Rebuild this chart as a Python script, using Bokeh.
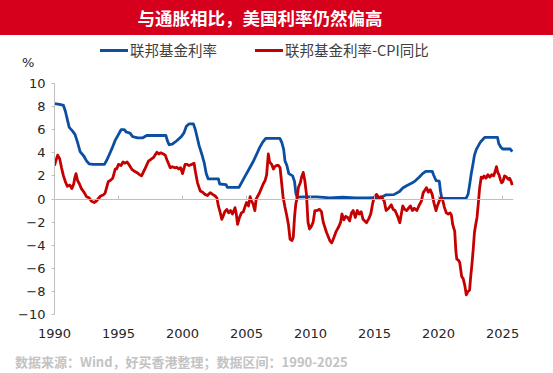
from bokeh.plotting import figure
from bokeh.layouts import column
from bokeh.models import LinearAxis, Div, FixedTicker, ColumnDataSource
from bokeh.embed import file_html
from bokeh.resources import INLINE

title_text = "与通胀相比，美国利率仍然偏高"
series_names = ["联邦基金利率", "联邦基金利率-CPI同比"]
footer_text = "数据来源：Wind，好买香港整理；数据区间：1990-2025"
unit_text = "%"
x_ticks = [1990, 1995, 2000, 2005, 2010, 2015, 2020, 2025]
y_ticks = [-10, -8, -6, -4, -2, 0, 2, 4, 6, 8, 10]

fed_years = [1990.0, 1990.4, 1990.7, 1990.85, 1991.0, 1991.15, 1991.4, 1991.6, 1991.8, 1992.0,
             1992.3, 1992.5, 1992.7, 1993.0, 1993.5, 1993.9, 1994.1, 1994.3, 1994.5, 1994.75,
             1995.0, 1995.2, 1995.45, 1995.6, 1995.9, 1996.1, 1996.5, 1996.9, 1997.2, 1997.6,
             1998.0, 1998.5, 1998.7, 1998.8, 1998.95, 1999.2, 1999.5, 1999.7, 1999.9, 2000.1,
             2000.3, 2000.5, 2000.85, 2001.0, 2001.15, 2001.3, 2001.5, 2001.7, 2001.85, 2002.0,
             2002.8, 2002.9, 2003.4, 2003.5, 2004.4, 2004.6, 2004.9, 2005.2, 2005.5, 2005.8,
             2006.0, 2006.25, 2006.5, 2007.6, 2007.75, 2007.9, 2008.0, 2008.15, 2008.3, 2008.6,
             2008.75, 2008.85, 2008.95, 2009.5, 2010.5, 2011.5, 2012.5, 2013.5, 2014.5, 2015.5,
             2015.9, 2016.5, 2016.95, 2017.2, 2017.5, 2017.95, 2018.2, 2018.5, 2018.75, 2019.0,
             2019.5, 2019.6, 2019.8, 2020.05, 2020.15, 2020.25, 2022.15, 2022.3, 2022.42, 2022.55,
             2022.65, 2022.8, 2022.95, 2023.1, 2023.25, 2023.45, 2023.6, 2024.6, 2024.7, 2024.85,
             2025.0, 2025.6, 2025.75]
fed_vals = [8.25, 8.2, 8.1, 7.6, 6.9, 6.2, 5.9, 5.6, 4.9, 4.1,
            3.7, 3.3, 3.05, 3.0, 3.0, 3.0, 3.4, 3.9, 4.4, 5.1,
            5.6, 6.0, 6.0, 5.8, 5.7, 5.4, 5.3, 5.3, 5.5, 5.5,
            5.5, 5.5, 5.5, 5.1, 4.7, 4.75, 5.0, 5.2, 5.4, 5.7,
            6.3, 6.5, 6.5, 6.0, 5.3, 4.6, 3.9, 3.1, 2.2, 1.75,
            1.75, 1.3, 1.25, 1.0, 1.0, 1.4, 2.0, 2.6, 3.2, 3.9,
            4.4, 4.9, 5.25, 5.25, 4.9, 4.3, 3.3, 2.9, 2.2, 2.0,
            1.5, 0.5, 0.16, 0.18, 0.18, 0.09, 0.15, 0.1, 0.09, 0.13,
            0.36, 0.38, 0.65, 0.95, 1.15, 1.4, 1.6, 1.9, 2.2, 2.4,
            2.4, 2.1, 1.6, 1.55, 0.65, 0.06, 0.08, 0.4, 1.2, 2.2,
            2.8, 3.8, 4.3, 4.6, 4.9, 5.15, 5.33, 5.33, 4.8, 4.5,
            4.33, 4.33, 4.1]

real_years = [1990.0, 1990.1, 1990.25, 1990.4, 1990.55, 1990.7, 1990.85, 1991.0, 1991.2, 1991.35,
              1991.5, 1991.6, 1991.68, 1991.8, 1991.95, 1992.1, 1992.3, 1992.5, 1992.7, 1992.9,
              1993.1, 1993.25, 1993.4, 1993.6, 1993.8, 1993.95, 1994.2, 1994.35, 1994.55, 1994.75,
              1994.85, 1995.0, 1995.2, 1995.35, 1995.5, 1995.67, 1995.8, 1996.05, 1996.25, 1996.45,
              1996.65, 1996.8, 1997.1, 1997.35, 1997.5, 1997.74, 1997.85, 1998.0, 1998.15, 1998.3,
              1998.5, 1998.65, 1998.78, 1999.04, 1999.2, 1999.4, 1999.55, 1999.7, 1999.85, 2000.0,
              2000.2, 2000.35, 2000.5, 2000.73, 2000.9, 2001.0, 2001.17, 2001.38, 2001.55, 2001.75,
              2001.95, 2002.16, 2002.35, 2002.55, 2002.68, 2002.8, 2002.95, 2003.07, 2003.2, 2003.3,
              2003.46, 2003.6, 2003.75, 2003.9, 2004.1, 2004.2, 2004.3, 2004.45, 2004.6, 2004.75,
              2004.9, 2005.0, 2005.15, 2005.28, 2005.4, 2005.5, 2005.65, 2005.75, 2005.9, 2006.0,
              2006.15, 2006.3, 2006.45, 2006.57, 2006.7, 2006.8, 2006.96, 2007.1, 2007.2, 2007.35,
              2007.5, 2007.62, 2007.75, 2007.85, 2008.0, 2008.15, 2008.27, 2008.4, 2008.55, 2008.65,
              2008.75, 2008.85, 2008.95, 2009.05, 2009.2, 2009.3, 2009.43, 2009.55, 2009.68, 2009.8,
              2009.92, 2010.05, 2010.2, 2010.34, 2010.5, 2010.7, 2010.85, 2011.0, 2011.25, 2011.5,
              2011.65, 2011.8, 2012.0, 2012.2, 2012.35, 2012.45, 2012.6, 2012.75, 2012.9, 2013.05,
              2013.2, 2013.33, 2013.5, 2013.65, 2013.8, 2013.95, 2014.1, 2014.37, 2014.55, 2014.7,
              2014.85, 2014.95, 2015.15, 2015.35, 2015.5, 2015.75, 2015.9, 2016.1, 2016.3, 2016.45,
              2016.6, 2016.8, 2016.97, 2017.2, 2017.35, 2017.5, 2017.65, 2017.8, 2017.95, 2018.1,
              2018.3, 2018.5, 2018.65, 2018.8, 2018.95, 2019.05, 2019.2, 2019.35, 2019.5, 2019.65,
              2019.8, 2019.9, 2020.05, 2020.15, 2020.3, 2020.45, 2020.6, 2020.75, 2020.9, 2021.0,
              2021.1, 2021.26, 2021.35, 2021.42, 2021.55, 2021.65, 2021.8, 2021.92, 2022.05, 2022.16,
              2022.3, 2022.42, 2022.5, 2022.6, 2022.7, 2022.8, 2022.9, 2023.0, 2023.1, 2023.2,
              2023.33, 2023.45, 2023.55, 2023.7, 2023.85, 2024.0, 2024.15, 2024.3, 2024.42, 2024.52,
              2024.62, 2024.72, 2024.82, 2024.92, 2025.02, 2025.15, 2025.3, 2025.45, 2025.55, 2025.67,
              2025.75]
real_vals = [2.9, 3.3, 3.8, 3.5, 2.7, 2.0, 1.5, 1.1, 1.2, 0.9,
             1.3, 1.9, 2.2, 1.6, 1.3, 0.9, 0.6, 0.2, 0.1, -0.2,
             -0.3, -0.2, 0.0, 0.26, 0.35, 0.5, 1.5, 1.6, 1.8, 2.6,
             2.6, 3.0, 2.9, 3.2, 3.1, 3.2, 3.0, 2.56, 2.4, 2.28,
             2.1, 2.0, 2.7, 3.3, 3.4, 3.6, 3.8, 4.05, 3.9, 4.0,
             3.9, 3.8, 3.4, 2.7, 2.8, 2.7, 2.75, 2.6, 2.7, 2.2,
             3.0, 3.0, 2.9, 3.0, 3.1, 2.4, 1.4, 0.7, 0.6, 0.4,
             0.3, 0.55, 0.4, 0.26, 0.1, -0.6, -1.2, -1.76, -1.4, -1.1,
             -0.9, -1.2, -1.0, -1.3, -0.75, -1.3, -2.2, -1.6, -1.2, -1.1,
             -0.6, -0.3, -0.6, 0.2, -0.2, -0.4, -1.0, 0.0, 0.3, 0.5,
             0.9, 1.3, 1.6, 2.1, 3.9, 3.2, 3.0, 2.6, 2.8, 2.9,
             2.9, 2.7, 1.3, 0.2, -0.7, -1.5, -2.2, -3.5, -3.6, -3.3,
             -1.5, -0.4, 0.1, 1.0, 1.4, 1.9, 2.3, 1.6, 0.4, -2.0,
             -2.6, -2.4, -2.0, -1.0, -1.0, -0.9, -1.1, -2.05, -2.9, -3.6,
             -3.8, -3.4, -2.8, -2.4, -2.0, -1.3, -1.8, -1.5, -1.6, -1.9,
             -1.2, -1.0, -1.6, -1.0, -1.3, -1.1, -1.76, -2.05, -1.7, -1.3,
             -0.4, 0.1, 0.4, 0.1, 0.2, -0.17, -1.0, -0.8, -0.5, -0.9,
             -1.0, -1.5, -2.05, -0.6, -0.9, -1.0, -0.8, -0.6, -1.0, -0.8,
             -1.0, -0.5, -0.2, 0.55, 0.8, 0.98, 0.6, 0.8, 0.4, -0.4,
             -1.0, -0.6, -0.17, 0.1, 0.0, -0.7, -1.2, -1.3, -1.2, -1.4,
             -2.2, -2.8, -4.5, -5.2, -5.3, -5.5, -6.7, -6.9, -7.5, -8.3,
             -8.0, -7.9, -6.8, -5.7, -4.4, -2.9, -2.2, -1.6, -0.4, 0.9,
             1.9, 1.8, 2.0, 1.8, 2.1, 1.9, 2.1, 2.0, 2.4, 2.8,
             2.3, 2.1, 1.7, 1.4, 1.5, 2.0, 1.9, 1.7, 1.8, 1.5,
             1.2]

BLUE = "#0B4EA2"
RED = "#C40000"
BAR_RED = "#D6001C"
GRAY_AXIS = "#BFBFBF"
TXT = "#262626"
W = 553

# ---------- header: title bar, legend, unit ----------
cjk = "'Noto Sans CJK SC', sans-serif"
header_html = (
    f'<div style="position:relative;width:{W}px;height:75px;margin:0;padding:0;">'
    f'<div style="position:absolute;left:0;top:0;width:{W}px;height:35px;background:{BAR_RED};"></div>'
    f'<div style="position:absolute;left:0;top:0;width:520px;height:35px;line-height:35px;'
    f'text-align:center;color:white;font-family:{cjk};font-size:17.5px;font-weight:bold;'
    f'white-space:nowrap;">{title_text}</div>'
    f'<div style="position:absolute;left:100px;top:49px;width:28px;height:3px;background:{BLUE};"></div>'
    f'<div style="position:absolute;left:130px;top:41px;height:18px;line-height:18px;color:#404040;'
    f'font-family:{cjk};font-size:14.5px;white-space:nowrap;">{series_names[0]}</div>'
    f'<div style="position:absolute;left:255px;top:49px;width:28px;height:3px;background:{RED};"></div>'
    f'<div style="position:absolute;left:285px;top:41px;height:18px;line-height:18px;color:#404040;'
    f'font-family:{cjk};font-size:14.5px;white-space:nowrap;">{series_names[1]}</div>'
    f'<div style="position:absolute;left:22px;top:55px;height:16px;line-height:16px;color:{TXT};'
    f'font-family:\'DejaVu Sans\';font-size:13px;">{unit_text}</div>'
    f'</div>'
)
header = Div(text=header_html, width=W, height=75, styles={"margin": "0", "padding": "0"})

# ---------- main chart ----------
p = figure(width=W, height=275, x_range=(1990, 2025.85), y_range=(-10, 10),
           output_backend="svg", toolbar_location=None,
           min_border_left=54, min_border_right=40, min_border_top=8, min_border_bottom=36)
p.outline_line_color = None
p.xgrid.visible = False
p.ygrid.visible = False
p.background_fill_color = "white"
p.border_fill_color = "white"

src_fed = ColumnDataSource(dict(x=fed_years, y=fed_vals))
src_real = ColumnDataSource(dict(x=real_years, y=real_vals))
p.line("x", "y", source=src_fed, line_color=BLUE, line_width=2.8, line_join="round")
p.line("x", "y", source=src_real, line_color=RED, line_width=2.8, line_join="round")

ya = p.yaxis[0]
ya.ticker = FixedTicker(ticks=y_ticks)
ya.axis_line_color = GRAY_AXIS
ya.major_tick_line_color = GRAY_AXIS
ya.major_tick_in = 0
ya.major_tick_out = 3
ya.minor_tick_line_color = None
ya.major_label_standoff = 6
ya.major_label_text_font = "DejaVu Sans"
ya.major_label_text_font_size = "13px"
ya.major_label_text_color = TXT

xa = p.xaxis[0]
xa.ticker = FixedTicker(ticks=x_ticks)
xa.axis_line_color = None
xa.major_tick_line_color = None
xa.minor_tick_line_color = None
xa.major_tick_in = 0
xa.major_tick_out = 0
xa.major_label_standoff = 14
xa.major_label_text_font = "DejaVu Sans"
xa.major_label_text_font_size = "13px"
xa.major_label_text_color = TXT

za = LinearAxis(fixed_location=0, ticker=FixedTicker(ticks=x_ticks))
za.axis_line_color = GRAY_AXIS
za.axis_line_width = 1.2
za.major_tick_line_color = GRAY_AXIS
za.major_tick_in = 4
za.major_tick_out = 0
za.minor_tick_line_color = None
za.major_label_standoff = 0
za.major_label_text_font_size = "0px"
za.major_label_text_color = None
p.add_layout(za, "below")

# ---------- footer ----------
footer = Div(text=footer_text, width=W, height=23, styles={
    "color": "#C3C3C3", "font-family": "'Noto Sans CJK SC'", "font-size": "13px",
    "font-weight": "bold", "line-height": "23px", "padding-left": "15px",
    "box-sizing": "border-box", "margin": "0", "white-space": "nowrap", "overflow": "hidden"})

layout = column(header, p, footer, spacing=0)
open("out.html", "w").write(file_html(layout, INLINE))
